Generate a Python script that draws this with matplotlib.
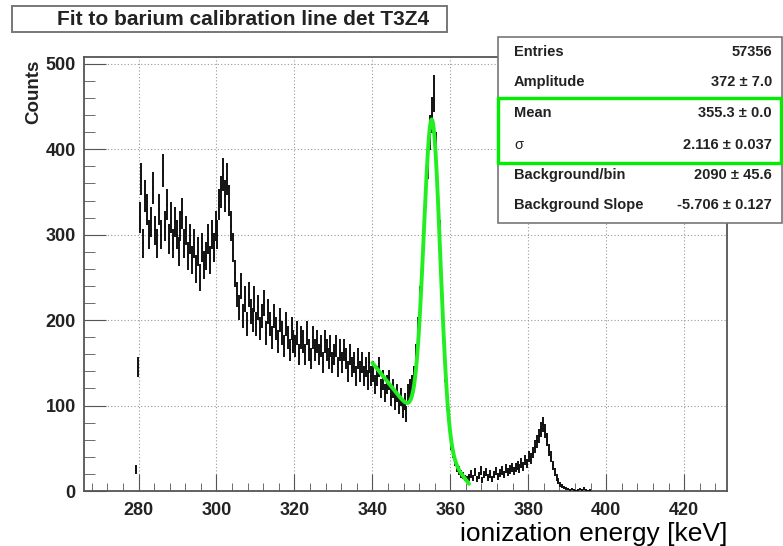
import numpy as np
import matplotlib
matplotlib.use("Agg")
import matplotlib.pyplot as plt
from matplotlib.patches import Rectangle
from matplotlib.ticker import MultipleLocator

plt.rcParams['font.family'] = ['Liberation Sans', 'DejaVu Sans']

W, H = 783, 546

# Histogram of the barium line region (0.5 keV bins)
bin_start = 279.25
bin_width = 0.5
counts = [
    25, 145,
    320, 365, 290, 345, 330, 300, 315, 355, 305, 290, 330, 300, 375, 310, 335, 295, 320, 290, 315, 300,
    280, 310, 325, 290, 305, 275, 295, 270, 290, 260, 280, 250, 285, 265, 275, 295, 270, 300, 285, 310,
    300, 335, 350, 370, 345, 365, 340, 310, 285, 255, 230, 215, 240, 205, 225, 195, 230, 210, 200, 225,
    195, 215, 190, 205, 220, 185, 210, 195, 180, 205, 190, 175, 200, 185, 170, 195, 180, 165, 190, 175,
    170, 185, 160, 180, 175, 160, 185, 165, 155, 180, 165, 175, 160, 170, 150, 175, 165, 155, 170, 150,
    160, 170, 145, 165, 150, 165, 155, 140, 160, 145, 150, 135, 155, 140, 150, 135, 145, 130, 150, 135,
    140, 125, 135, 145, 120, 130, 115, 125, 130, 110, 120, 105, 115, 100, 110, 95, 105, 90, 115, 120,
    125, 135, 160, 190, 225, 250, 300, 350, 385, 420, 440, 465, 400, 340, 300, 235, 190, 140, 105, 80,
    55, 45, 35, 28, 24, 20, 18, 15, 14, 16, 20, 15, 22, 14, 18, 24, 13, 19, 22, 16,
    20, 14, 19, 23, 17, 21, 24, 19, 26, 22, 25, 28, 23, 27, 30, 26, 33, 29, 36, 32,
    40, 38, 45, 52, 58, 64, 72, 78, 70, 60, 48, 40, 30, 22, 16, 12, 8, 6, 4, 3,
    2, 1, 2, 1, 0, 1, 2, 1, 3, 1, 0, 1,
]

# Gaussian + linear background fit results
amplitude = 372.0
mean = 355.3
sigma = 2.116
bkg_const = 2090.0
bkg_slope = -5.706
fit_lo, fit_hi = 340.0, 364.8

stat_labels = ["Entries", "Amplitude", "Mean", "\u03c3", "Background/bin", "Background Slope"]
stat_values = ["57356", "372 \u00b1 7.0", "355.3 \u00b1 0.0", "2.116 \u00b1 0.037",
               "2090 \u00b1 45.6", "-5.706 \u00b1 0.127"]

title = "Fit to barium calibration line det T3Z4"
xlabel = "ionization energy [keV]"
ylabel = "Counts"


def fx(px):
    return px / W


def fy(py):
    return 1 - py / H


fig = plt.figure(figsize=(W / 100, H / 100), dpi=100)
ax = fig.add_axes([fx(84), fy(491), (727 - 84) / W, (491 - 57) / H])

counts_arr = np.array(counts, dtype=float)
centers = bin_start + bin_width * np.arange(len(counts_arr))
ax.errorbar(centers, counts_arr, yerr=np.sqrt(counts_arr), xerr=bin_width / 2,
            fmt='none', ecolor='#111111', elinewidth=1.4, capsize=0, zorder=3)

xf = np.linspace(fit_lo, fit_hi, 400)
yf = amplitude * np.exp(-0.5 * ((xf - mean) / sigma) ** 2) + bkg_const + bkg_slope * xf
ax.plot(xf, yf, color='#22ee22', linewidth=2.8, zorder=4, solid_capstyle='round')

ax.set_xlim(266, 431)
ax.set_ylim(0, 508)
ax.xaxis.set_major_locator(MultipleLocator(20))
ax.xaxis.set_minor_locator(MultipleLocator(4))
ax.yaxis.set_major_locator(MultipleLocator(100))
ax.yaxis.set_minor_locator(MultipleLocator(20))
ax.grid(True, which='major', linestyle=(0, (1, 2)), color='#999999', linewidth=0.8)
ax.set_axisbelow(True)
ax.tick_params(axis='both', which='both', direction='in', top=False, right=False,
               color='#555555')
ax.tick_params(axis='x', which='major', length=12, pad=8)
ax.tick_params(axis='x', which='minor', length=6)
ax.tick_params(axis='y', which='major', length=16, pad=6)
ax.tick_params(axis='y', which='minor', length=8)
for lab in ax.get_xticklabels() + ax.get_yticklabels():
    lab.set_fontweight('bold')
    lab.set_fontsize(13)
    lab.set_color('#222222')
for sp in ax.spines.values():
    sp.set_color('#555555')
    sp.set_linewidth(1.3)

# axis titles
fig.text(fx(34), fy(60), ylabel, rotation=90, ha='center', va='top',
         fontsize=13.5, fontweight='bold', color='#222222')
fig.text(fx(727), fy(541), xlabel, ha='right', va='baseline', fontsize=19, color='black')

# title box
fig.patches.append(Rectangle((fx(12), fy(32)), (447 - 12) / W, (32 - 6) / H,
                             transform=fig.transFigure, facecolor='white',
                             edgecolor='#777777', linewidth=1.4, zorder=5))
fig.text(fx(243), fy(19.5), title, ha='center', va='center', fontsize=15,
         fontweight='bold', color='#222222', zorder=6)

# statistics box
fig.patches.append(Rectangle((fx(498), fy(223)), (782 - 498) / W, (223 - 37) / H,
                             transform=fig.transFigure, facecolor='white',
                             edgecolor='#777777', linewidth=1.2, zorder=5))
row_y = [52, 82, 113, 145, 175, 205]
for lab, val, yy in zip(stat_labels, stat_values, row_y):
    is_sigma = lab == "\u03c3"
    fig.text(fx(514), fy(yy), lab, ha='left', va='center',
             fontsize=10.5, fontweight='normal' if is_sigma else 'bold',
             color='#222222', zorder=6)
    fig.text(fx(772), fy(yy), val, ha='right', va='center', fontsize=10.5,
             fontweight='bold', color='#222222', zorder=6)
fig.patches.append(Rectangle((fx(498), fy(163)), (781 - 498) / W, (163 - 98) / H,
                             transform=fig.transFigure, facecolor='none',
                             edgecolor='#00ee00', linewidth=2.4, zorder=7))

fig.savefig("out.png", dpi=100)
